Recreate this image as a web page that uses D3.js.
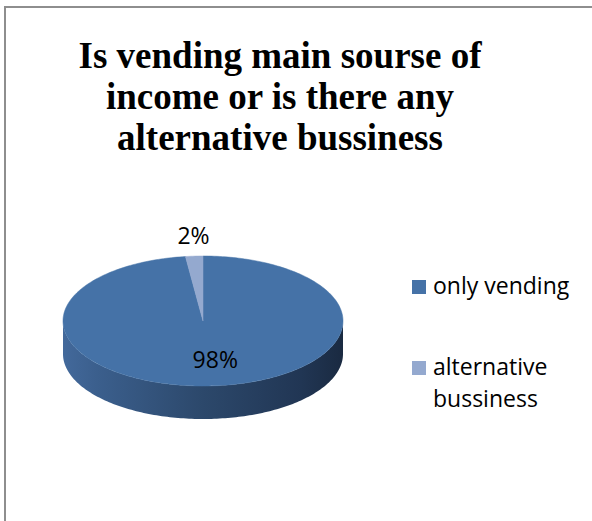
<!DOCTYPE html>
<html>
<head>
<meta charset="utf-8">
<script src="https://cdn.jsdelivr.net/npm/d3@7"></script>
<style>
  html, body { margin: 0; padding: 0; background: #fff; }
  svg { display: block; }
</style>
</head>
<body>
<svg id="chart" width="592" height="521"></svg>
<script>
// Survey answers: share of vendors
const categories = ["only vending", "alternative bussiness"];
const values = [98, 2];
const valueLabels = ["98%", "2%"];
const titleLines = ["Is vending main sourse of", "income or is there any", "alternative bussiness"];
const legendLines = [["only vending"], ["alternative", "bussiness"]];

const topColors = ["#4572a7", "#94a9cf"];

const W = 592, H = 521;
const svg = d3.select("#chart");

// chart frame (only top and left edges fall inside the view)
svg.append("rect")
  .attr("x", 5).attr("y", 7)
  .attr("width", W + 20).attr("height", H + 20)
  .attr("fill", "#fff")
  .attr("stroke", "#8e8e8e")
  .attr("stroke-width", 2);

// title
const title = svg.append("text")
  .attr("text-anchor", "middle")
  .attr("font-family", "'Liberation Serif', 'Times New Roman', serif")
  .attr("font-weight", "bold")
  .attr("font-size", 37)
  .attr("fill", "#000");
titleLines.forEach((t, i) => {
  title.append("tspan").attr("x", 280).attr("y", 68 + i * 41).text(t);
});

// 3D pie geometry
const cx = 203, cy = 321, rx = 140, ry = 65, depth = 33;
const pie = d3.pie().sort(null).value(d => d);
const arcs = pie(values);

const px = a => cx + rx * Math.sin(a);
const py = (a, dz = 0) => cy - ry * Math.cos(a) + dz;

function ellipsePath(a0, a1, dz, reverse) {
  const n = Math.max(2, Math.ceil(Math.abs(a1 - a0) / 0.02));
  const pts = d3.range(n + 1).map(i => a0 + (a1 - a0) * i / n);
  if (reverse) pts.reverse();
  return pts.map(a => [px(a), py(a, dz)]);
}

const defs = svg.append("defs");
const grad = defs.append("linearGradient")
  .attr("id", "sideGrad")
  .attr("gradientUnits", "userSpaceOnUse")
  .attr("x1", cx - rx).attr("x2", cx + rx)
  .attr("y1", 0).attr("y2", 0);
[[0, "#43699b"], [0.12, "#3b5f8d"], [0.5, "#2c486b"], [0.85, "#213654"], [1, "#1a2a41"]]
  .forEach(([o, c]) => grad.append("stop").attr("offset", o).attr("stop-color", c));

const line = d3.line();
const gPie = svg.append("g");

// outer wall: visible part lies between PI/2 and 3PI/2
arcs.forEach(d => {
  const a0 = Math.max(d.startAngle, Math.PI / 2);
  const a1 = Math.min(d.endAngle, 3 * Math.PI / 2);
  if (a1 <= a0) return;
  const pts = ellipsePath(a0, a1, 0, false).concat(ellipsePath(a0, a1, depth, true));
  gPie.append("path")
    .attr("d", line(pts) + "Z")
    .attr("fill", d.index === 0 ? "url(#sideGrad)" : "#7d93b8");
});

// top faces
arcs.forEach(d => {
  const pts = [[cx, cy]].concat(ellipsePath(d.startAngle, d.endAngle, 0, false));
  gPie.append("path")
    .attr("d", line(pts) + "Z")
    .attr("fill", topColors[d.index])
    .attr("stroke", topColors[d.index])
    .attr("stroke-width", 0.5);
});

// value labels
const labelFont = "'Open Sans', 'Noto Sans', sans-serif";
arcs.forEach(d => {
  const mid = (d.startAngle + d.endAngle) / 2;
  const inside = d.index === 0;
  const k = inside ? 0.6 : 1.31;
  const x = cx + rx * k * Math.sin(mid) + (inside ? 7 : 2);
  const y = cy - ry * k * Math.cos(mid);
  svg.append("text")
    .attr("x", x).attr("y", y)
    .attr("dy", "0.35em")
    .attr("text-anchor", "middle")
    .attr("font-family", labelFont)
    .attr("font-size", 23)
    .attr("fill", "#000")
    .text(valueLabels[d.index]);
});

// legend
const legendY = [294, 375];
categories.forEach((c, i) => {
  svg.append("rect")
    .attr("x", 412).attr("y", legendY[i] - 14)
    .attr("width", 14).attr("height", 14)
    .attr("fill", topColors[i]);
  const t = svg.append("text")
    .attr("font-family", labelFont)
    .attr("font-size", 23)
    .attr("fill", "#000");
  legendLines[i].forEach((s, j) => {
    t.append("tspan").attr("x", 433).attr("y", legendY[i] + j * 32).text(s);
  });
});
</script>
</body>
</html>
